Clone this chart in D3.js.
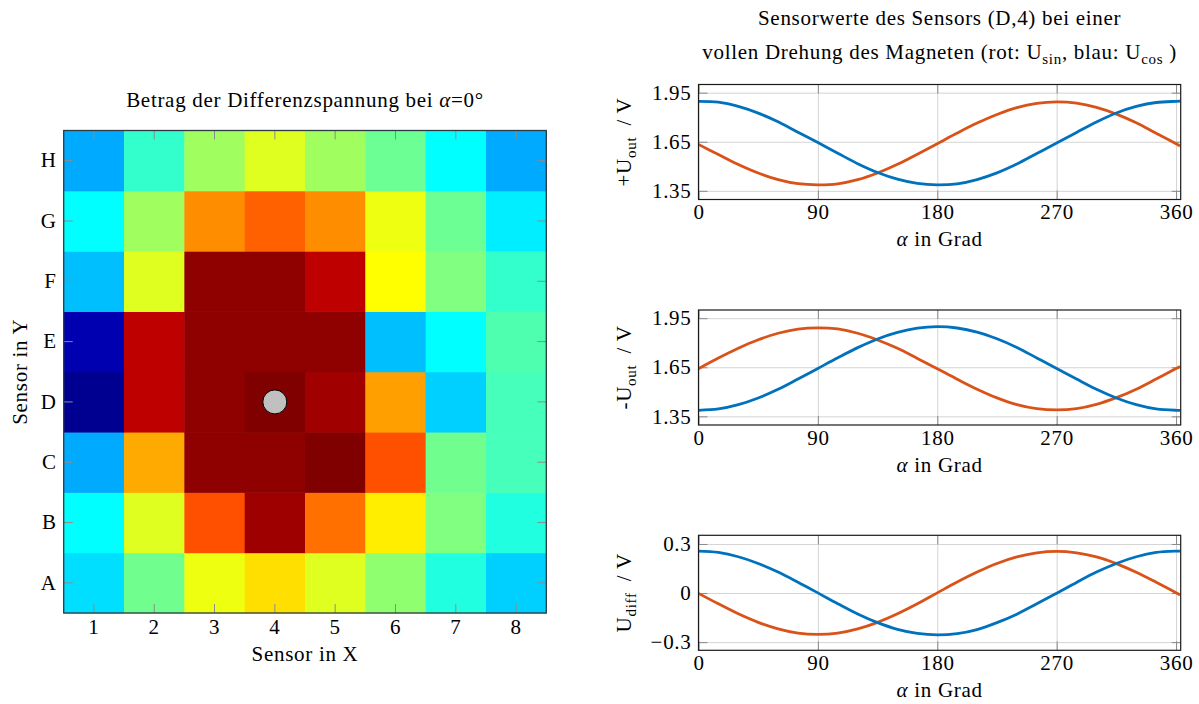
<!DOCTYPE html>
<html>
<head>
<meta charset="utf-8">
<script src="https://cdn.jsdelivr.net/npm/d3@7/dist/d3.min.js"></script>
<style>
  body { margin: 0; background: #fff; }
  svg, svg text, svg tspan { font-family: 'Liberation Serif', 'Times New Roman', Times, 'DejaVu Serif', serif; }
  svg text { letter-spacing: 0.7px; }
</style>
</head>
<body>
<div id="chart"></div>
<script>
// heatmap: |U_diff| per sensor at alpha = 0 deg, normalised 0..1
const sensorX = [1, 2, 3, 4, 5, 6, 7, 8];
const sensorY = ["A", "B", "C", "D", "E", "F", "G", "H"];
const rowA = [0.344, 0.485, 0.609, 0.656, 0.594, 0.515, 0.406, 0.329];
const rowB = [0.375, 0.594, 0.797, 0.970, 0.765, 0.642, 0.500, 0.406];
const rowC = [0.292, 0.708, 0.985, 0.985, 1.000, 0.797, 0.485, 0.443];
const rowD = [0.016, 0.938, 0.985, 1.000, 0.968, 0.718, 0.329, 0.443];
const rowE = [0.047, 0.938, 0.985, 0.985, 0.985, 0.312, 0.375, 0.452];
const rowF = [0.312, 0.594, 0.985, 0.985, 0.938, 0.625, 0.500, 0.425];
const rowG = [0.375, 0.532, 0.737, 0.781, 0.737, 0.608, 0.480, 0.358];
const rowH = [0.292, 0.425, 0.532, 0.594, 0.532, 0.480, 0.375, 0.292];
const magnet = { x: 4, y: "D" };

// sensor (D,4) over one full turn
const alphaDeg = [0, 15, 30, 45, 60, 75, 90, 105, 120, 135, 150, 165, 180,
  195, 210, 225, 240, 255, 270, 285, 300, 315, 330, 345, 360, 363];
const alphaTicks = [0, 90, 180, 270, 360];
const posCos = [1.897, 1.892, 1.866, 1.825, 1.772, 1.708, 1.645, 1.580, 1.516, 1.462, 1.421, 1.395, 1.386,
  1.393, 1.419, 1.460, 1.514, 1.578, 1.642, 1.707, 1.771, 1.826, 1.866, 1.890, 1.897, 1.898];
const posSin = [1.634, 1.572, 1.511, 1.459, 1.419, 1.394, 1.387, 1.393, 1.418, 1.459, 1.512, 1.574, 1.638,
  1.703, 1.764, 1.817, 1.859, 1.885, 1.894, 1.886, 1.860, 1.819, 1.766, 1.702, 1.638, 1.624];
const negCos = [1.387, 1.395, 1.421, 1.462, 1.515, 1.578, 1.643, 1.708, 1.770, 1.823, 1.863, 1.889, 1.898,
  1.890, 1.865, 1.824, 1.771, 1.707, 1.643, 1.578, 1.515, 1.462, 1.421, 1.395, 1.387, 1.387];
const negSin = [1.641, 1.706, 1.766, 1.818, 1.858, 1.883, 1.891, 1.884, 1.858, 1.817, 1.766, 1.704, 1.641,
  1.577, 1.516, 1.463, 1.422, 1.397, 1.389, 1.397, 1.423, 1.464, 1.516, 1.578, 1.642, 1.655];
const diffCos = [0.256, 0.248, 0.222, 0.181, 0.128, 0.066, 0.001, -0.065, -0.128, -0.181, -0.222, -0.247, -0.256,
  -0.248, -0.223, -0.181, -0.129, -0.066, -0.001, 0.065, 0.128, 0.181, 0.222, 0.248, 0.256, 0.256];
const diffSin = [-0.002, -0.066, -0.127, -0.179, -0.219, -0.245, -0.253, -0.245, -0.219, -0.179, -0.127, -0.066, 0.001,
  0.067, 0.128, 0.181, 0.221, 0.246, 0.255, 0.246, 0.221, 0.180, 0.127, 0.066, 0.002, -0.012];
const outTicks = [1.35, 1.65, 1.95];
const diffTicks = [-0.3, 0, 0.3];

const width = 1199;
const height = 704;
const FS = 21;
const blue = "#0072BD";
const orange = "#D95319";

const svg = d3.select("#chart")
  .append("svg")
  .attr("width", width)
  .attr("height", height)
  .attr("font-size", FS);

// text with subscripts: odd entries are subscripts
function richText(sel, parts) {
  parts.forEach((p, i) => {
    const t = sel.append("tspan").text(p);
    if (i % 2 === 1) t.attr("font-size", 15).attr("dy", 5);
    else if (i > 0) t.attr("dy", -5);
  });
}

function styleAxis(g, tickColor) {
  g.attr("font-family", null).attr("font-size", FS);
  g.select(".domain").remove();
  g.selectAll("line").attr("stroke", tickColor);
  g.selectAll("text").attr("fill", "#000");
}

// ---------- heatmap ----------
const jet = d3.scaleLinear()
  .domain([0, 1 / 8, 3 / 8, 5 / 8, 7 / 8, 1])
  .range(["#000080", "#0000ff", "#00ffff", "#ffff00", "#ff0000", "#800000"]);

const rows = { A: rowA, B: rowB, C: rowC, D: rowD, E: rowE, F: rowF, G: rowG, H: rowH };
const cells = [];
sensorY.forEach(r => rows[r].forEach((v, i) => cells.push({ x: sensorX[i], y: r, value: v })));

const hm = { left: 63.7, right: 546.3, top: 130.5, bottom: 613 };
const hmX = d3.scaleBand().domain(sensorX).range([hm.left, hm.right]);
const hmY = d3.scaleBand().domain(sensorY).range([hm.bottom, hm.top]);

const heat = svg.append("g").attr("class", "heatmap");

heat.selectAll("rect.cell")
  .data(cells)
  .enter()
  .append("rect")
  .attr("class", "cell")
  .attr("x", d => hmX(d.x))
  .attr("y", d => hmY(d.y))
  .attr("width", hmX.bandwidth() + 0.5)
  .attr("height", hmY.bandwidth() + 0.5)
  .attr("fill", d => jet(d.value));

heat.append("circle")
  .attr("cx", hmX(magnet.x) + hmX.bandwidth() / 2)
  .attr("cy", hmY(magnet.y) + hmY.bandwidth() / 2)
  .attr("r", 12)
  .attr("fill", "#c0c0c0")
  .attr("stroke", "#000")
  .attr("stroke-width", 1);

const tickGray = "#8c8c8c";
heat.append("g")
  .attr("transform", `translate(0,${hm.bottom})`)
  .call(d3.axisBottom(hmX).tickSizeInner(-9).tickSizeOuter(0).tickPadding(6))
  .call(g => styleAxis(g, tickGray));
heat.append("g")
  .attr("transform", `translate(0,${hm.top})`)
  .call(d3.axisTop(hmX).tickSizeInner(-9).tickSizeOuter(0).tickFormat(""))
  .call(g => styleAxis(g, tickGray));
heat.append("g")
  .attr("transform", `translate(${hm.left},0)`)
  .call(d3.axisLeft(hmY).tickSizeInner(-9).tickSizeOuter(0).tickPadding(7))
  .call(g => styleAxis(g, tickGray));
heat.append("g")
  .attr("transform", `translate(${hm.right},0)`)
  .call(d3.axisRight(hmY).tickSizeInner(-9).tickSizeOuter(0).tickFormat(""))
  .call(g => styleAxis(g, tickGray));

heat.append("rect")
  .attr("x", hm.left)
  .attr("y", hm.top)
  .attr("width", hm.right - hm.left)
  .attr("height", hm.bottom - hm.top)
  .attr("fill", "none")
  .attr("stroke", "#2b3a40")
  .attr("stroke-width", 1.3);

const hmTitle = heat.append("text")
  .attr("x", (hm.left + hm.right) / 2)
  .attr("y", 107)
  .attr("text-anchor", "middle");
hmTitle.append("tspan").text("Betrag der Differenzspannung bei ");
hmTitle.append("tspan").attr("font-style", "italic").text("α");
hmTitle.append("tspan").text("=0°");

heat.append("text")
  .attr("x", (hm.left + hm.right) / 2)
  .attr("y", 661)
  .attr("text-anchor", "middle")
  .text("Sensor in X");

heat.append("text")
  .attr("transform", `translate(27,${(hm.top + hm.bottom) / 2}) rotate(-90)`)
  .attr("text-anchor", "middle")
  .text("Sensor in Y");

// ---------- line panels ----------
const pLeft = 698.5;
const pRight = 1180.7;
const pHeight = 115;
const x = d3.scaleLinear().domain([0, 363.5]).range([pLeft, pRight]);

const panels = [
  { top: 84.5, domain: [1.297, 2.0], ticks: outTicks, fmt: d3.format(".2f"),
    label: ["+U", "out", "\u2002/ V"], blueVals: posCos, orangeVals: posSin },
  { top: 310, domain: [1.297, 2.0], ticks: outTicks, fmt: d3.format(".2f"),
    label: ["-U", "out", "\u2002/ V"], blueVals: negCos, orangeVals: negSin },
  { top: 535.3, domain: [-0.35, 0.353], ticks: diffTicks, fmt: d => d === 0 ? "0" : d3.format(".1f")(d),
    label: ["U", "diff", "\u2002/ V"], blueVals: diffCos, orangeVals: diffSin }
];

panels.forEach(p => {
  const bottom = p.top + pHeight;
  const y = d3.scaleLinear().domain(p.domain).range([bottom, p.top]);
  const g = svg.append("g").attr("class", "panel");

  // grid
  g.append("g")
    .attr("transform", `translate(0,${bottom})`)
    .call(d3.axisBottom(x).tickValues(alphaTicks).tickSize(-pHeight).tickFormat(""))
    .call(a => styleAxis(a, "#d4d4d4"));
  g.append("g")
    .attr("transform", `translate(${pLeft},0)`)
    .call(d3.axisLeft(y).tickValues(p.ticks).tickSize(-(pRight - pLeft)).tickFormat(""))
    .call(a => styleAxis(a, "#d4d4d4"));

  // inner tick marks on all sides, labels bottom/left
  g.append("g")
    .attr("transform", `translate(0,${bottom})`)
    .call(d3.axisBottom(x).tickValues(alphaTicks).tickSizeInner(-9).tickSizeOuter(0).tickPadding(5))
    .call(a => styleAxis(a, "#8a8a8a"));
  g.append("g")
    .attr("transform", `translate(0,${p.top})`)
    .call(d3.axisTop(x).tickValues(alphaTicks).tickSizeInner(-9).tickSizeOuter(0).tickFormat(""))
    .call(a => styleAxis(a, "#8a8a8a"));
  g.append("g")
    .attr("transform", `translate(${pLeft},0)`)
    .call(d3.axisLeft(y).tickValues(p.ticks).tickSizeInner(-9).tickSizeOuter(0).tickPadding(7).tickFormat(p.fmt))
    .call(a => styleAxis(a, "#8a8a8a"));
  g.append("g")
    .attr("transform", `translate(${pRight},0)`)
    .call(d3.axisRight(y).tickValues(p.ticks).tickSizeInner(-9).tickSizeOuter(0).tickFormat(""))
    .call(a => styleAxis(a, "#8a8a8a"));

  const line = d3.line()
    .x((d, i) => x(alphaDeg[i]))
    .y(d => y(d))
    .curve(d3.curveCatmullRom);

  g.append("path")
    .datum(p.orangeVals)
    .attr("d", line)
    .attr("fill", "none")
    .attr("stroke", orange)
    .attr("stroke-width", 2.8);
  g.append("path")
    .datum(p.blueVals)
    .attr("d", line)
    .attr("fill", "none")
    .attr("stroke", blue)
    .attr("stroke-width", 2.8);

  g.append("rect")
    .attr("x", pLeft)
    .attr("y", p.top)
    .attr("width", pRight - pLeft)
    .attr("height", pHeight)
    .attr("fill", "none")
    .attr("stroke", "#1a1a1a")
    .attr("stroke-width", 1.2);

  const xl = g.append("text")
    .attr("x", (pLeft + pRight) / 2)
    .attr("y", bottom + 46.5)
    .attr("text-anchor", "middle");
  xl.append("tspan").attr("font-style", "italic").text("α");
  xl.append("tspan").text(" in Grad");

  const yl = g.append("text")
    .attr("transform", `translate(631,${p.top + pHeight / 2}) rotate(-90)`)
    .attr("text-anchor", "middle");
  richText(yl, p.label);
});

// right-hand title
svg.append("text")
  .attr("x", (pLeft + pRight) / 2)
  .attr("y", 25)
  .attr("text-anchor", "middle")
  .text("Sensorwerte des Sensors (D,4) bei einer");

const t2 = svg.append("text")
  .attr("x", (pLeft + pRight) / 2)
  .attr("y", 59)
  .attr("text-anchor", "middle");
richText(t2, ["vollen Drehung des Magneten (rot: U", "sin", ", blau: U", "cos", " )"]);
</script>
</body>
</html>
